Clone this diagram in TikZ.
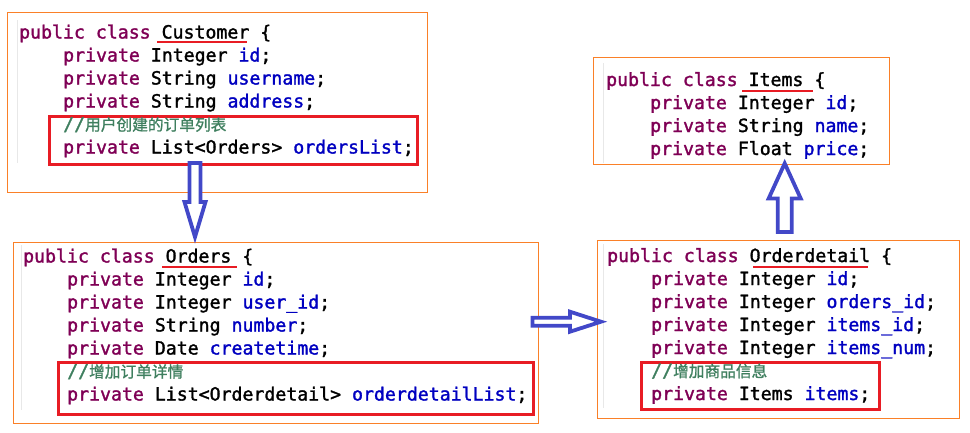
\documentclass[tikz,border=0pt]{standalone}
\usepackage{fontspec}
\usepackage{tikz}
\usetikzlibrary{calc}
\newfontfamily\codefont{DejaVu Sans Mono}[FakeBold=1.6]
\newfontfamily\cjkfont{Noto Sans CJK SC}[FakeBold=1.2]
\newcommand{\codesize}{\fontsize{18.2pt}{23pt}\selectfont}
\definecolor{boxorange}{RGB}{250,128,40}
\definecolor{selred}{RGB}{232,28,36}
\definecolor{kwpurple}{RGB}{127,0,85}
\definecolor{fldblue}{RGB}{0,0,192}
\definecolor{cmtgreen}{RGB}{63,127,95}
\definecolor{arrowblue}{RGB}{66,72,200}
\newcommand{\kw}[1]{\textcolor{kwpurple}{#1}}
\newcommand{\fld}[1]{\textcolor{fldblue}{#1}}
\newcommand{\cmt}[1]{\textcolor{cmtgreen}{//{\cjkfont\fontsize{15.7pt}{23pt}\selectfont #1}}}
\tikzstyle{classbox} = [draw=boxorange, line width=1.4pt, rectangle, anchor=north west, inner sep=0pt]
\tikzstyle{selbox} = [draw=selred, line width=3pt, rectangle, anchor=north west, inner sep=0pt]
\tikzstyle{code} = [anchor=base west, inner sep=0pt, font=\codesize\codefont]
\tikzstyle{uline} = [draw=selred, line width=2.5pt]
\tikzstyle{margin} = [draw=black!9, line width=1pt]
\tikzstyle{bigarrow} = [draw=arrowblue, fill=white, line width=3.8pt, line join=miter]
% hollow block arrow: start, tip, shaft half width, head half width, head length
\newcommand{\hollowarrow}[5]{%
  \path ($(#2)!#5!(#1)$) coordinate (ha);
  \draw[bigarrow] ($(#1)!#3!90:(#2)$) -- ($(ha)!#3!90:(#2)$) -- ($(ha)!#4!90:(#2)$) -- (#2)
    -- ($(ha)!#4!-90:(#2)$) -- ($(ha)!#3!-90:(#2)$) -- ($(#1)!#3!-90:(#2)$) -- cycle;
}

\begin{document}
\begin{tikzpicture}[x=1pt,y=-1pt]
\useasboundingbox (0,0) rectangle (970,432);

% class boxes
\node[classbox, minimum width=420pt, minimum height=180pt] (custbox) at (7,12) {};
\node[classbox, minimum width=525pt, minimum height=181pt] (ordbox) at (13,242) {};
\node[classbox, minimum width=296pt, minimum height=107pt] (itembox) at (593,57) {};
\node[classbox, minimum width=362pt, minimum height=178pt] (detbox) at (597,240) {};

% editor margins
\draw[margin] (17,20) -- (17,163);
\draw[margin] (21,245) -- (21,410);
\draw[margin] (603,63) -- (603,163);
\draw[margin] (603,244) -- (603,408);

% selected fields
\node[selbox, minimum width=368pt, minimum height=48pt] (custsel) at (48,115) {};
\node[selbox, minimum width=475pt, minimum height=52pt] (ordsel) at (57,361) {};
\node[selbox, minimum width=238pt, minimum height=47pt] (detsel) at (640,361) {};

% Customer
\node[code] (cust0) at (19,38.5) {\kw{public class} Customer \{};
\foreach \t [count=\i] in {{\kw{private} Integer \fld{id};},
    {\kw{private} String \fld{username};},
    {\kw{private} String \fld{address};},
    {\cmt{用户创建的订单列表}},
    {\kw{private} List<Orders> \fld{ordersList};}}
  \node[code] (cust\i) at (63,38.5+23*\i) {\t};

% Orders
\node[code] (ord0) at (23,262.5) {\kw{public class} Orders \{};
\foreach \t [count=\i] in {{\kw{private} Integer \fld{id};},
    {\kw{private} Integer \fld{user\_id};},
    {\kw{private} String \fld{number};},
    {\kw{private} Date \fld{createtime};},
    {\cmt{增加订单详情}},
    {\kw{private} List<Orderdetail> \fld{orderdetailList};}}
  \node[code] (ord\i) at (67,262.5+23*\i) {\t};

% Items
\node[code] (item0) at (606,86) {\kw{public class} Items \{};
\foreach \t [count=\i] in {{\kw{private} Integer \fld{id};},
    {\kw{private} String \fld{name};},
    {\kw{private} Float \fld{price};}}
  \node[code] (item\i) at (650,86+23*\i) {\t};

% Orderdetail
\node[code] (det0) at (607,262) {\kw{public class} Orderdetail \{};
\foreach \t [count=\i] in {{\kw{private} Integer \fld{id};},
    {\kw{private} Integer \fld{orders\_id};},
    {\kw{private} Integer \fld{items\_id};},
    {\kw{private} Integer \fld{items\_num};},
    {\cmt{增加商品信息}},
    {\kw{private} Items \fld{items};}}
  \node[code] (det\i) at (651,262+23*\i) {\t};

% class name marks
\draw[uline] (157,42) -- (247,42);
\draw[uline] (162,267) -- (237,267);
\draw[uline] (742,91) -- (813,91);
\draw[uline] (753,267) -- (868,267);

% relations
\coordinate (dnS) at ([xshift=147pt,yshift=3pt]custsel.south west);
\coordinate (dnT) at ([xshift=182pt,yshift=5pt]ordbox.north west);
\hollowarrow{dnS}{dnT}{5.5pt}{10.5pt}{35pt}
\coordinate (rtS) at ([xshift=-7pt,yshift=11.5pt]ordbox.east);
\coordinate (rtT) at ([xshift=4pt]detbox.west |- rtS);
\hollowarrow{rtS}{rtT}{4pt}{10pt}{31pt}
\coordinate (upS) at ([xshift=6pt,yshift=8pt]detbox.north);
\coordinate (upT) at ([yshift=2pt]itembox.south -| upS);
\hollowarrow{upS}{upT}{7pt}{16pt}{35pt}
\end{tikzpicture}
\end{document}
